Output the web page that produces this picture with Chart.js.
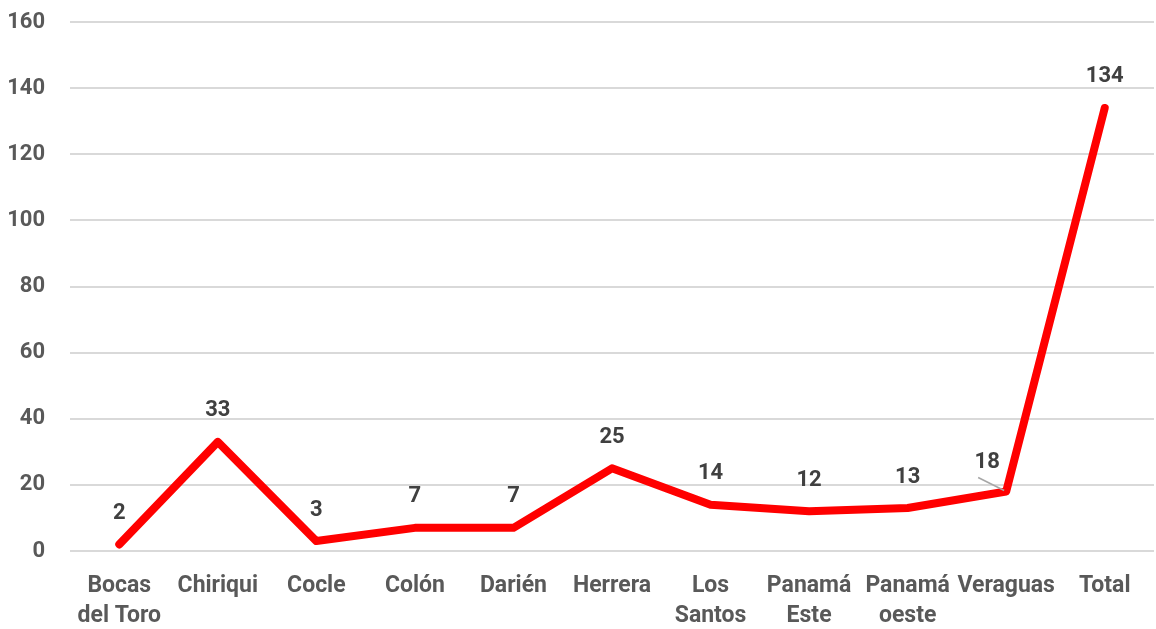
<!DOCTYPE html>
<html>
<head>
<meta charset="utf-8">
<script src="https://cdn.jsdelivr.net/npm/chart.js@4"></script>
<style>
  html, body { margin: 0; padding: 0; background: #fff; }
  #wrap { width: 1156px; height: 629px; }
</style>
</head>
<body>
<div id="wrap"><canvas id="chart" width="1156" height="629"></canvas></div>
<script>
const regions = [
  ['Bocas', 'del Toro'], 'Chiriqui', 'Cocle', 'Colón', 'Darién', 'Herrera',
  ['Los', 'Santos'], ['Panamá', 'Este'], ['Panamá', 'oeste'], 'Veraguas', 'Total'
];
const cases = [2, 33, 3, 7, 7, 25, 14, 12, 13, 18, 134];
const yTicks = [0, 20, 40, 60, 80, 100, 120, 140, 160];

const FONT = "Roboto, 'Liberation Sans', sans-serif";

// value labels above the points; Veraguas sits up-left with a small leader line
const valueLabels = {
  id: 'valueLabels',
  afterDatasetsDraw(chart) {
    const ctx = chart.ctx;
    const meta = chart.getDatasetMeta(0);
    ctx.save();
    ctx.font = 'bold 22px ' + FONT;
    ctx.fillStyle = '#404040';
    ctx.textAlign = 'center';
    ctx.textBaseline = 'middle';
    meta.data.forEach((pt, i) => {
      const v = chart.data.datasets[0].data[i];
      if (i === 9) {
        ctx.strokeStyle = '#a6a6a6';
        ctx.lineWidth = 1.5;
        ctx.beginPath();
        ctx.moveTo(pt.x - 28, pt.y - 14);
        ctx.lineTo(pt.x - 2, pt.y - 1);
        ctx.stroke();
        ctx.fillText(v, pt.x - 19, pt.y - 29);
      } else {
        ctx.fillText(v, pt.x, pt.y - 31);
      }
    });
    ctx.restore();
  }
};

new Chart(document.getElementById('chart'), {
  type: 'line',
  data: {
    labels: regions,
    datasets: [{
      data: cases,
      borderColor: '#ff0000',
      borderWidth: 8,
      borderCapStyle: 'round',
      borderJoinStyle: 'round',
      pointRadius: 0,
      tension: 0,
      fill: false
    }]
  },
  options: {
    responsive: false,
    animation: false,
    layout: { padding: { top: 0, right: 2, left: 0, bottom: 0 } },
    plugins: {
      legend: { display: false },
      tooltip: { enabled: false }
    },
    scales: {
      x: {
        offset: true,
        grid: { display: false, drawTicks: false },
        border: { display: false },
        afterFit: axis => { axis.height = 78; },
        ticks: {
          color: '#595959',
          font: { family: FONT, size: 23, weight: 'bold', lineHeight: 1.3 },
          padding: 20,
          maxRotation: 0,
          autoSkip: false
        }
      },
      y: {
        min: 0,
        max: 160,
        afterBuildTicks: axis => { axis.ticks = yTicks.map(v => ({ value: v })); },
        afterFit: axis => { axis.width = 70; axis.paddingTop = 22; },
        grid: { color: '#d9d9d9', lineWidth: 2, drawTicks: false },
        border: { display: false },
        ticks: {
          color: '#595959',
          font: { family: FONT, size: 22, weight: 'bold', lineHeight: 1 },
          padding: 25
        }
      }
    }
  },
  plugins: [valueLabels]
});
</script>
</body>
</html>
